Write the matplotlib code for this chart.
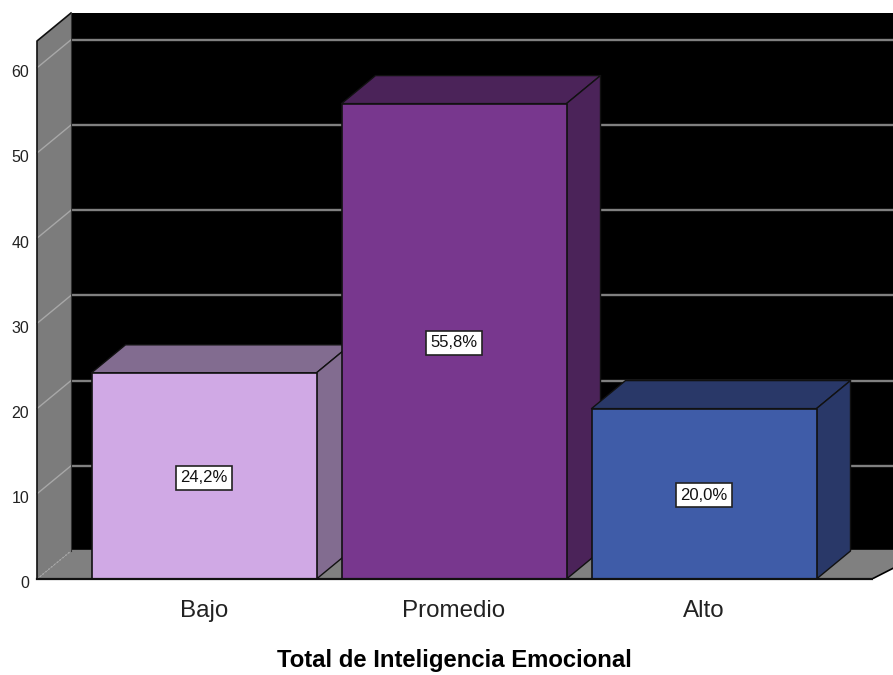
import matplotlib
matplotlib.use("Agg")
import matplotlib.pyplot as plt
from matplotlib.patches import Polygon
from matplotlib.transforms import ScaledTranslation

categories = ["Bajo", "Promedio", "Alto"]
percentages = [24.2, 55.8, 20.0]
labels = ["24,2%", "55,8%", "20,0%"]
y_ticks = [0, 10, 20, 30, 40, 50, 60]
front_colors = ["#D0A9E5", "#78378E", "#3F5CA8"]
side_colors = ["#826C90", "#4B2359", "#293868"]

plt.rcParams['font.family'] = ['Liberation Sans', 'DejaVu Sans']

W, H = 893, 675
fig = plt.figure(figsize=(W / 100, H / 100), dpi=100)
# axes = plan avant du graphique, en pixels de la reference
ax = fig.add_axes([37 / W, (H - 579) / H, (W - 37) / W, 566 / H])
px_x = 250.0
px_y = 8.52
x0 = (37 - 204) / px_x
ax.set_xlim(x0, x0 + (W - 37) / px_x)
ax.set_ylim(0, 566 / px_y)

# profondeur 3D en unites de donnees
dx = 34 / px_x
dy = 28 / px_y
bar_w = 0.9
x_end = x0 + (W - 37) / px_x
wall_top = 566 / px_y


def poly(points, fc, ec="none", lw=0.0, z=1):
    ax.add_patch(Polygon(points, closed=True, facecolor=fc, edgecolor=ec,
                         linewidth=lw, zorder=z, clip_on=False, joinstyle="round"))


# mur du fond, mur gauche, sol
poly([(x0 + dx, dy), (x_end + 1, dy), (x_end + 1, wall_top), (x0 + dx, wall_top)], "black", z=1)
poly([(x0, 0), (x0 + dx, dy), (x0 + dx, wall_top), (x0, wall_top - dy)], "#7c7c7c", z=1)
poly([(x0, 0), (x0 + dx, dy), (x_end + dx, dy), (x_end - 21 / px_x, 0)], "#808080", z=1)

# grille
for t in y_ticks:
    ax.plot([x0 + dx, x_end], [t + dy, t + dy], color="#808080", lw=1.7, zorder=2, clip_on=False)
    ax.plot([x0, x0 + dx], [t, t + dy], color="#a8a8a8", lw=1.0, zorder=2, clip_on=False,
            ls=":" if t == 0 else "-")

# contours des murs
ax.plot([x0, x0, x0 + dx], [0, wall_top - dy, wall_top], color="#111111", lw=1.2, zorder=3, clip_on=False)
ax.plot([x0 + dx, x0 + dx], [dy, wall_top], color="#333333", lw=0.8, zorder=3, clip_on=False)
ax.plot([x_end - 21 / px_x, x_end + dx], [0, dy], color="black", lw=1.2, zorder=3)

# barres 3D
for i, v in enumerate(percentages):
    l = i - bar_w / 2
    r = i + bar_w / 2
    poly([(l, v), (r, v), (r + dx, v + dy), (l + dx, v + dy)], side_colors[i], "#111111", 1.0, z=4)
    poly([(r, 0), (r + dx, dy), (r + dx, v + dy), (r, v)], side_colors[i], "#111111", 1.0, z=4)
    poly([(l, 0), (r, 0), (r, v), (l, v)], front_colors[i], "#111111", 1.2, z=5)
    ax.annotate(labels[i], xy=(i, v / 2), xytext=(0, -1.2), textcoords="offset points",
                ha="center", va="center", fontsize=12, color="#111111", zorder=6,
                bbox=dict(boxstyle="square,pad=0.27", fc="white", ec="#222222", lw=1.2))

ax.plot([x0, x_end - 21 / px_x], [0, 0], color="#111111", lw=1.6, zorder=6, clip_on=False)

ax.set_xticks(range(len(categories)))
ax.set_xticklabels(categories, fontsize=17.4, color="#222222")
ax.set_yticks(y_ticks)
ax.set_yticklabels([str(t) for t in y_ticks], fontsize=11.5, color="#222222")
ax.tick_params(axis="x", length=0, pad=15)
ax.tick_params(axis="y", length=0, pad=5.5)
# les chiffres sont un peu sous les graduations
shift = ScaledTranslation(0, -3.5 / 100, fig.dpi_scale_trans)
for lab in ax.get_yticklabels():
    lab.set_transform(lab.get_transform() + shift)
for s in ax.spines.values():
    s.set_visible(False)
ax.patch.set_visible(False)
ax.set_xlabel("Total de Inteligencia Emocional", fontsize=17.2, fontweight="bold", color="black")
ax.xaxis.set_label_coords((454.5 - 37) / (W - 37), -(661 - 579) / 566)
ax.xaxis.label.set_va("center")

fig.savefig("out.png", dpi=100, facecolor="white")
